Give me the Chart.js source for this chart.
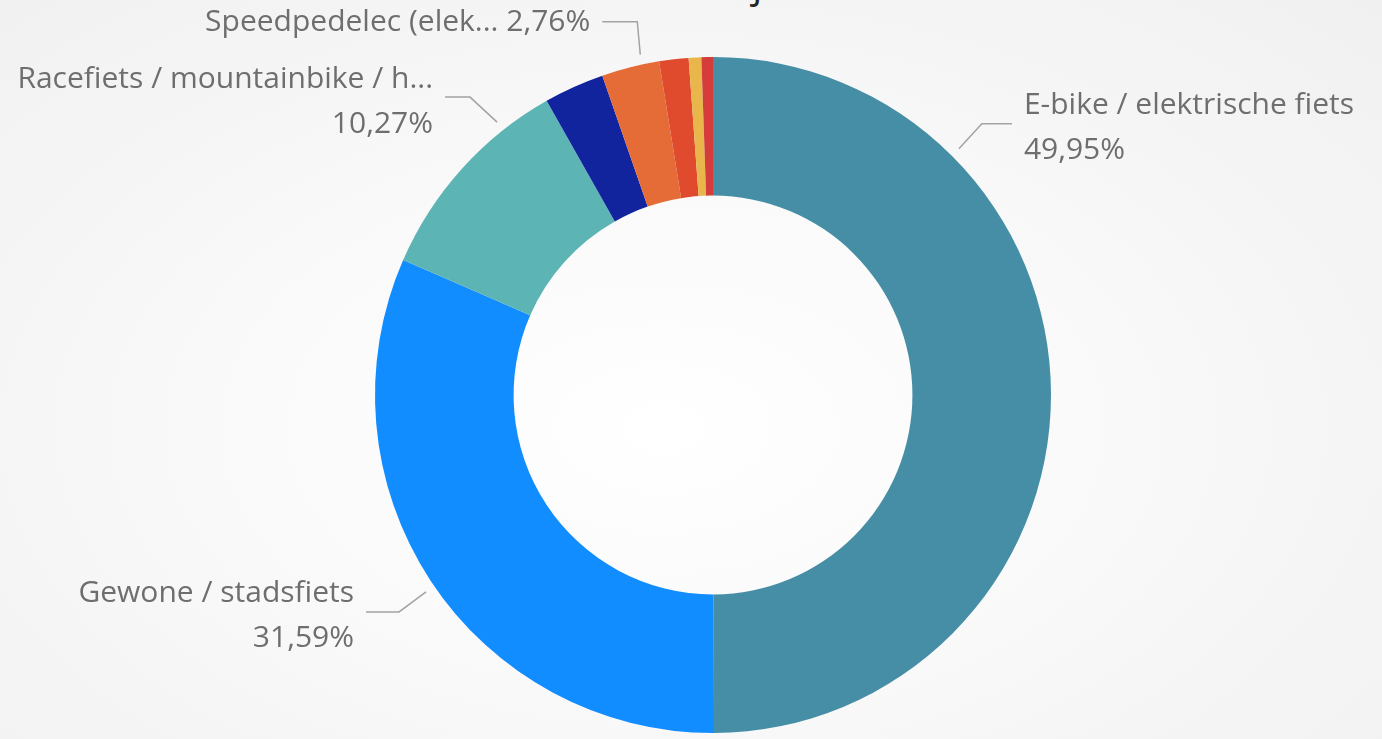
<!DOCTYPE html>
<html>
<head>
<meta charset="utf-8">
<script src="https://cdn.jsdelivr.net/npm/chart.js@4.4.1/dist/chart.umd.min.js"></script>
<style>
  html, body {
    margin: 0; padding: 0;
    width: 1382px; height: 739px; overflow: hidden;
    background: radial-gradient(ellipse at 48% 58%, #ffffff 0%, #f9f9f9 45%, #f0f0f0 100%);
  }
  #title {
    position: absolute; left: 84px; top: -46px; width: 1382px;
    text-align: center; line-height: 48px;
    font: 40px "Open Sans", sans-serif; color: #252423;
  }
  #wrap { position: absolute; left: 0; top: 0; width: 1382px; height: 739px; }
</style>
</head>
<body>
<div id="title">Welk soort fiets heeft u bij de start van het onderzoek</div>
<div id="wrap"><canvas id="donut"></canvas></div>
<script>
// ── Data (percentages, sorted as in the source visual) ──
const CATEGORIES = [
  "E-bike / elektrische fiets",
  "Gewone / stadsfiets",
  "Racefiets / mountainbike / h...",
  "Bakfiets",
  "Speedpedelec (elek...",
  "Anders",
  "Vouwfiets",
  "Ligfiets"
];
const SHARES = [49.95, 31.59, 10.27, 2.88, 2.76, 1.40, 0.60, 0.55];
const COLORS = ["#468ea6", "#118dff", "#5db4b4", "#12239e", "#e66c37", "#e04b2e", "#e8b64a", "#d43d3a"];

// which slices get a leader label, and how it is laid out
const LABEL_LAYOUT = [
  { index: 0, at: 0.25, elbow: [23, -25],  end: 53,  side: "right", lines: 2 },
  { index: 1, at: 0.49, elbow: [-27, 20],  end: -60, side: "left",  lines: 2 },
  { index: 2, at: 0.76, elbow: [-27, -25], end: -52, side: "left",  lines: 2 },
  { index: 4, at: 0.71, elbow: [-3, -33],  end: -38, side: "left",  lines: 1 }
];
const LABEL_FONT  = '30px "Open Sans", sans-serif';
const LABEL_COLOR = "#6e6e6e";
const LINE_COLOR  = "#a3a3a3";

function fmtPct(v) {
  return v.toFixed(2).replace(".", ",") + "%";
}

/* ================================================================
   LEADER LABELS  (Power BI style data labels)
   ================================================================ */
const leaderLabels = {
  id: "leaderLabels",
  afterDatasetsDraw(chart) {
    const ctx  = chart.ctx;
    const meta = chart.getDatasetMeta(0);
    ctx.save();
    ctx.font = LABEL_FONT;
    ctx.textBaseline = "middle";

    LABEL_LAYOUT.forEach(l => {
      const arc = meta.data[l.index];
      const p = arc.getProps(["x", "y", "startAngle", "endAngle", "outerRadius"], true);
      const a  = p.startAngle + (p.endAngle - p.startAngle) * l.at;
      const r  = p.outerRadius + 10;
      const sx = p.x + Math.cos(a) * r;
      const sy = p.y + Math.sin(a) * r;
      const ex = sx + l.elbow[0];
      const ey = sy + l.elbow[1];
      const tx = sx + l.end;

      ctx.beginPath();
      ctx.moveTo(sx, sy);
      ctx.lineTo(ex, ey);
      ctx.lineTo(tx, ey);
      ctx.lineWidth = 1.5;
      ctx.strokeStyle = LINE_COLOR;
      ctx.stroke();

      const name = CATEGORIES[l.index];
      const pct  = fmtPct(SHARES[l.index]);
      const textX = l.side === "right" ? tx + 12 : tx - 12;
      ctx.textAlign = l.side === "right" ? "left" : "right";
      ctx.fillStyle = LABEL_COLOR;
      if (l.lines === 1) {
        ctx.fillText(name + " " + pct, textX, ey + 1);
      } else {
        ctx.fillText(name, textX, ey - 18);
        ctx.fillText(pct,  textX, ey + 27);
      }
    });
    ctx.restore();
  }
};

/* ================================================================
   CHART
   ================================================================ */
new Chart(document.getElementById("donut"), {
  type: "doughnut",
  data: {
    labels: CATEGORIES,
    datasets: [{
      data: SHARES,
      backgroundColor: COLORS,
      borderWidth: 0
    }]
  },
  options: {
    responsive: true,
    maintainAspectRatio: false,
    animation: false,
    cutout: "59%",
    layout: { padding: { left: 375, right: 331, top: 57, bottom: 6 } },
    plugins: {
      legend: { display: false },
      tooltip: { enabled: false }
    }
  },
  plugins: [leaderLabels]
});
</script>
</body>
</html>
